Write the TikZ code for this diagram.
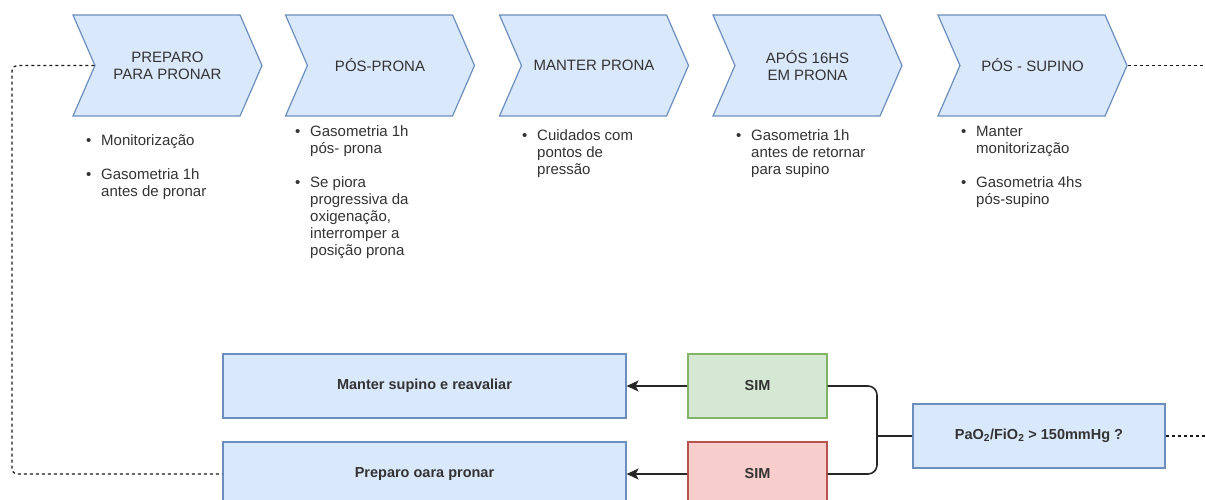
\documentclass[tikz,border=0pt]{standalone}
\usepackage{fontspec}
\setmainfont{Liberation Sans}
\usetikzlibrary{shapes.symbols, arrows.meta}
\definecolor{fillblue}{HTML}{DAE8FC}
\definecolor{edgeblue}{HTML}{6C8EBF}
\definecolor{fillgreen}{HTML}{D5E8D4}
\definecolor{edgegreen}{HTML}{82B366}
\definecolor{fillred}{HTML}{F8CECC}
\definecolor{edgered}{HTML}{B85450}
\definecolor{txtgray}{HTML}{333333}
\newcommand{\bt}{\makebox[15pt][l]{\textbullet}}
\newcommand{\ind}{\hspace*{15pt}}
\tikzset{
	chev/.style={signal, signal from=west, signal to=east, signal pointer angle=133, draw=edgeblue, fill=fillblue, line width=1.2pt, minimum width=189pt, minimum height=101pt, inner sep=0pt, align=center, text=txtgray, font=\fontsize{15}{17}\selectfont},
	notes/.style={anchor=base west, inner sep=0pt, text=txtgray, font=\fontsize{15}{17}\selectfont},
	box/.style={rectangle, draw=edgeblue, fill=fillblue, line width=1.2pt, minimum width=403pt, minimum height=64pt, inner sep=0pt, text=txtgray, font=\fontsize{14.5}{17}\selectfont\bfseries},
	simbox/.style={box, minimum width=139pt},
	link/.style={draw=black!85, line width=1.6pt},
	tip/.style={-{Stealth[length=12pt, width=11pt, inset=3pt]}},
	dashline/.style={draw=black!90, line width=1.2pt, dash pattern=on 3pt off 3pt, rounded corners=5pt}
}
\begin{document}
\begin{tikzpicture}[x=1pt,y=-1pt]
	\useasboundingbox (0,0) rectangle (1205,500);
	\node[chev] (c1) at (167.5,65.5) {PREPARO\\PARA PRONAR};
	\node[chev] (c2) at (380,65.5) {PÓS-PRONA};
	\node[chev] (c3) at (594,65.5) {MANTER PRONA};
	\node[chev] (c4) at (807.5,65.5) {APÓS 16HS\\EM PRONA};
	\node[chev] (c5) at (1032.5,65.5) {PÓS - SUPINO};
	\node[notes] (n1) at (86,146) {\begin{tabular}[t]{@{}l@{}}\bt Monitorização\\[17pt]\bt Gasometria 1h\\\ind antes de pronar\end{tabular}};
	\node[notes] (n2) at (295,137) {\begin{tabular}[t]{@{}l@{}}\bt Gasometria 1h\\\ind pós- prona\\[17pt]\bt Se piora\\\ind progressiva da\\\ind oxigenação,\\\ind interromper a\\\ind posição prona\end{tabular}};
	\node[notes] (n3) at (522,141) {\begin{tabular}[t]{@{}l@{}}\bt Cuidados com\\\ind pontos de\\\ind pressão\end{tabular}};
	\node[notes] (n4) at (736,141) {\begin{tabular}[t]{@{}l@{}}\bt Gasometria 1h\\\ind antes de retornar\\\ind para supino\end{tabular}};
	\node[notes] (n5) at (961,137) {\begin{tabular}[t]{@{}l@{}}\bt Manter\\\ind monitorização\\[17pt]\bt Gasometria 4hs\\\ind pós-supino\end{tabular}};
	\node[box] (keep) at (424.5,386) {Manter supino e reavaliar};
	\node[box] (prep) at (424.5,474) {Preparo oara pronar};
	\node[simbox, draw=edgegreen, fill=fillgreen] (simA) at (757.5,386) {SIM};
	\node[simbox, draw=edgered, fill=fillred] (simB) at (757.5,474) {SIM};
	\node[box, minimum width=252pt] (pao) at (1039,436) {PaO\textsubscript{2}/FiO\textsubscript{2} > 150mmHg ?};
	\coordinate (jn) at (877,436);
	\coordinate (lc) at (12,65.5);
	\coordinate (rc1) at (1205,65.5);
	\coordinate (rc2) at (1205,436);
	\draw[link, tip] (simA) -- (keep);
	\draw[link, tip] (simB) -- (prep);
	\draw[link, rounded corners=9pt] (simA.east) -| (jn) |- (simB.east);
	\draw[link] (pao) -- (jn);
	\draw[dashline] (c1.west) -- (lc) |- (prep.west);
	\draw[dashline] (c5.east) -- (rc1);
	\draw[dashline] (pao.east) -- (rc2);
\end{tikzpicture}
\end{document}
